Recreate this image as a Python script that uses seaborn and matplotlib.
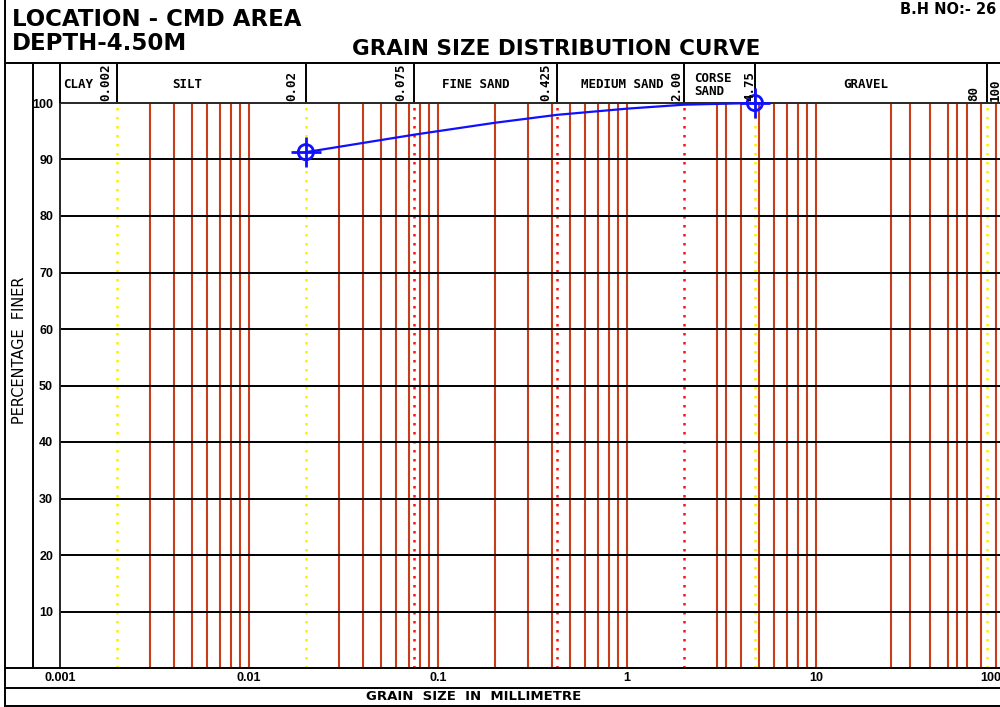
import numpy as np
import pandas as pd
import matplotlib
matplotlib.use("Agg")
import matplotlib.pyplot as plt
import seaborn as sns
from matplotlib.lines import Line2D
from matplotlib.transforms import ScaledTranslation

# ---------------- data ----------------
grain_size_mm = [0.02, 0.075, 0.2, 0.425, 1.0, 2.0, 4.75]
percent_finer = [91.3, 94.4, 96.5, 97.9, 99.0, 99.7, 100.0]
tested_size_mm = [0.02, 4.75]
tested_finer = [91.3, 100.0]

sieve_lines_mm = [0.003, 0.004, 0.005, 0.006, 0.007, 0.008, 0.009, 0.01,
                  0.03, 0.04, 0.05, 0.06, 0.07, 0.08, 0.09, 0.1,
                  0.2, 0.3, 0.4, 0.5, 0.6, 0.7, 0.8, 0.9, 1.0,
                  3.0, 3.35, 4.0, 5.0, 6.0, 7.0, 8.0, 9.0, 10.0,
                  25.0, 31.5, 40.0, 50.0, 56.0, 63.0, 75.0, 90.0]
yellow_bounds_mm = [0.002, 0.02, 4.75, 80.0]
red_bounds_mm = [0.075, 0.425, 2.0]
header_dividers_mm = [0.002, 0.02, 0.075, 0.425, 2.0, 4.75, 80.0]
header_numbers = ["0.002", "0.02", "0.075", "0.425", "2.00", "4.75", "80", "100"]
soil_classes = ["CLAY", "SILT", "FINE SAND", "MEDIUM SAND", "CORSE\nSAND", "GRAVEL"]
x_tick_values = [0.001, 0.01, 0.1, 1, 10, 100]
x_tick_labels = ["0.001", "0.01", "0.1", "1", "10", "100"]
y_tick_values = [10, 20, 30, 40, 50, 60, 70, 80, 90, 100]

curve = pd.DataFrame({"size": grain_size_mm, "finer": percent_finer})
tested = pd.DataFrame({"size": tested_size_mm, "finer": tested_finer})

# ---------------- style ----------------
sns.set_style("white")
plt.rcParams["font.family"] = ["DejaVu Sans"]
plt.rcParams["text.color"] = "black"
plt.rcParams["xtick.color"] = "black"
plt.rcParams["ytick.color"] = "black"

W, H = 1000, 707
fig = plt.figure(figsize=(W / 100, H / 100), dpi=100)
fig.patch.set_facecolor("white")


def fx(px):
    return px / W


def fy(py):
    return 1 - py / H


def fline(x0, y0, x1, y1, lw=1.4):
    fig.add_artist(Line2D([fx(x0), fx(x1)], [fy(y0), fy(y1)],
                          transform=fig.transFigure, color="black", lw=lw,
                          solid_capstyle="butt"))


AX_L, AX_R, AX_T, AX_B = 60, 1010, 103, 668
ax = fig.add_axes([fx(AX_L), fy(AX_B), fx(AX_R - AX_L), (AX_B - AX_T) / H])
ax.set_xscale("log")
px_per_decade = 189.0
ax.set_xlim(0.001, 10 ** (-3 + (AX_R - AX_L) / px_per_decade))
ax.set_ylim(0, 100)

# sieve (red) lines
for v in sieve_lines_mm:
    ax.axvline(v, color="#c63d18", lw=1.5, zorder=1)
for v in red_bounds_mm:
    ax.axvline(v, color="#ff1010", lw=1.8, ls=(0, (1.0, 2.6)), zorder=1.5)
for v in yellow_bounds_mm:
    ax.axvline(v, color="#fff000", lw=1.8, ls=(0, (1.0, 2.6)), zorder=1.5)

# horizontal grid
for v in y_tick_values[:-1]:
    ax.axhline(v, color="black", lw=1.4, zorder=2)

# curve
sns.lineplot(data=curve, x="size", y="finer", ax=ax, color="#1010ff",
             lw=1.6, zorder=5, clip_on=False)
sns.scatterplot(data=tested, x="size", y="finer", ax=ax, marker="o", s=120,
                facecolor="none", edgecolor="#1010ff", linewidth=2.0,
                zorder=6, clip_on=False)
sns.scatterplot(data=tested, x="size", y="finer", ax=ax, marker="+", s=440,
                color="#1010ff", linewidth=2.0, zorder=6, clip_on=False)

ax.set_xlabel("")
ax.set_ylabel("")

# ticks
ax.xaxis.set_major_locator(matplotlib.ticker.FixedLocator(x_tick_values))
ax.xaxis.set_major_formatter(matplotlib.ticker.FixedFormatter(x_tick_labels))
ax.xaxis.set_minor_locator(matplotlib.ticker.NullLocator())
ax.set_yticks(y_tick_values)
ax.set_yticklabels([str(v) for v in y_tick_values])
tick_fp = matplotlib.font_manager.FontProperties(
    family=["Liberation Sans Narrow", "Liberation Sans"], weight="bold", size=9)
for lab in ax.get_xticklabels() + ax.get_yticklabels():
    lab.set_fontproperties(tick_fp)
ax.tick_params(axis="x", length=0, pad=3)
ax.tick_params(axis="y", length=0, pad=5)
last_tick = ax.xaxis.get_major_ticks()[-1]
last_tick.label1.set_horizontalalignment("right")
last_tick.label1.set_transform(last_tick.label1.get_transform()
                               + ScaledTranslation(-0.04, 0, fig.dpi_scale_trans))

for s in ["right", "bottom"]:
    ax.spines[s].set_visible(False)
ax.spines["left"].set_linewidth(1.4)
ax.spines["top"].set_linewidth(1.4)
ax.spines["left"].set_zorder(3)
ax.spines["top"].set_zorder(3)

# header dividers
band = 40 / (AX_B - AX_T)
ax.vlines(header_dividers_mm, 1.0, 1.0 + band, transform=ax.get_xaxis_transform(),
          color="black", lw=1.4, clip_on=False)

# frame lines
fline(5, 0, 5, 707)
fline(5, 63, 1000, 63)
fline(33, 63, 33, 668)
fline(60, 63, 60, 103)
fline(5, 668, 1000, 668)
fline(5, 688, 1000, 688)
fline(5, 706, 1000, 706)

# header texts
head_font = dict(family="DejaVu Sans Mono", weight="bold", size=9)
class_pos = [(63, "left"), (187, "center"), (476, "center"), (622, "center"),
             (694, "left"), (866, "center")]
for (xp, ha), name in zip(class_pos, soil_classes):
    fig.text(fx(xp), fy(85), name, ha=ha, va="center", linespacing=0.95, **head_font)

num_pos = [112, 298, 407, 552, 683, 756, 980, 1002]
for xp, t in zip(num_pos, header_numbers):
    fig.text(fx(xp), fy(101), t, rotation=90, ha="right", va="bottom", **head_font)

# titles
fig.text(fx(12), fy(19), "LOCATION - CMD AREA", ha="left", va="center",
         weight="bold", size=16.5)
fig.text(fx(12), fy(43), "DEPTH-4.50M", ha="left", va="center",
         weight="bold", size=16.5)
fig.text(fx(556), fy(49), "GRAIN SIZE DISTRIBUTION CURVE", ha="center",
         va="center", weight="bold", size=15.5)
fig.text(fx(996), fy(10), "B.H NO:- 26", ha="right", va="center",
         weight="bold", size=10.5)
fig.text(fx(20), fy(350), "PERCENTAGE  FINER",
         rotation=90, ha="center", va="center", size=10.5)
fig.text(fx(474), fy(697), "GRAIN  SIZE  IN  MILLIMETRE", ha="center", va="center",
         weight="bold", size=9.5)

fig.savefig("out.png", dpi=100)
